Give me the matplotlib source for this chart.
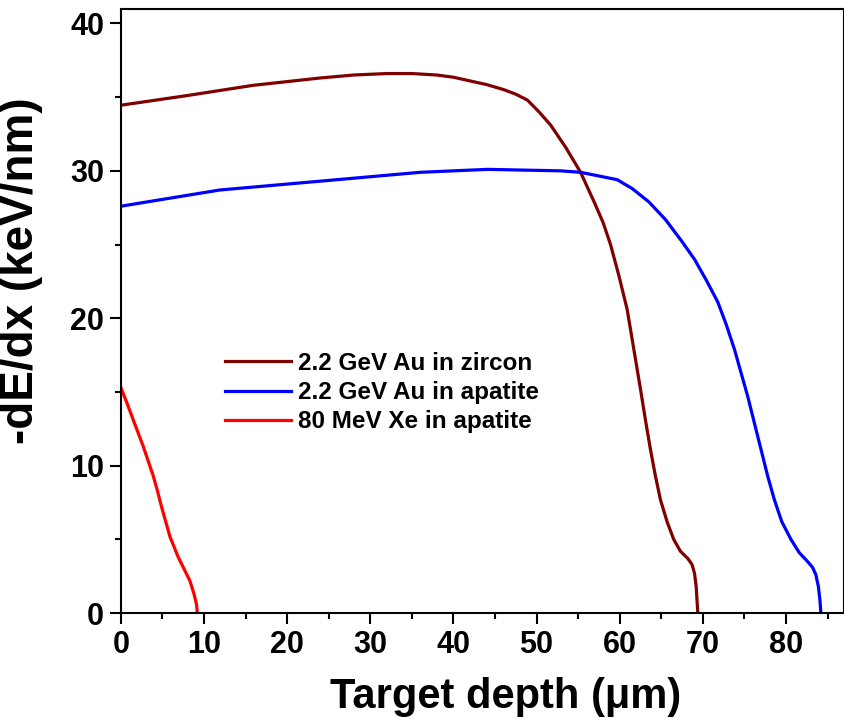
import numpy as np
import matplotlib.pyplot as plt

plt.rcParams['font.family'] = ['Liberation Sans', 'DejaVu Sans']
plt.rcParams['font.weight'] = 'bold'

# 2.2 GeV Au in zircon
zr_x = [0, 7.9, 15.9, 24.0, 28.0, 32.0, 35.0, 38.0, 40.0, 42.0, 44.0, 46.1, 47.5, 48.9,
        50.3, 51.7, 53.5, 55.3, 57.0, 58.0, 58.9, 59.9, 60.9, 61.7, 62.5, 63.1, 63.7,
        64.3, 64.9, 65.7, 66.5, 67.3, 68.2, 68.7, 69.0, 69.2, 69.3, 69.4]
zr_y = [34.45, 35.1, 35.8, 36.3, 36.5, 36.6, 36.6, 36.5, 36.35, 36.1, 35.85, 35.5, 35.2, 34.8,
        34.0, 33.1, 31.6, 29.9, 27.8, 26.5, 25.0, 22.9, 20.6, 17.9, 15.2, 13.1, 11.1,
        9.3, 7.7, 6.2, 5.0, 4.2, 3.7, 3.3, 2.7, 1.8, 0.9, 0]

# 2.2 GeV Au in apatite
ap_x = [0, 11.9, 24.0, 36.0, 44.1, 52.9, 55.3, 59.7, 61.5, 63.5, 65.5, 67.5, 69.0,
        70.5, 71.8, 72.8, 73.8, 74.6, 75.4, 76.2, 77.0, 77.8, 78.6, 79.5, 80.6,
        81.6, 82.6, 83.2, 83.6, 83.9, 84.1, 84.2]
ap_y = [27.6, 28.7, 29.3, 29.9, 30.1, 30.0, 29.9, 29.4, 28.8, 27.9, 26.7, 25.2, 24.0,
        22.5, 21.1, 19.6, 17.9, 16.3, 14.7, 12.9, 11.1, 9.3, 7.7, 6.2, 5.0,
        4.1, 3.5, 3.1, 2.6, 1.8, 0.8, 0]

# 80 MeV Xe in apatite
xe_x = [0, 0.7, 1.5, 2.1, 2.7, 3.3, 3.9, 4.4, 4.9, 5.4, 5.9, 6.4, 6.9, 7.6, 8.3, 8.8, 9.1, 9.2]
xe_y = [15.3, 14.3, 13.1, 12.2, 11.3, 10.3, 9.3, 8.3, 7.2, 6.2, 5.2, 4.5, 3.8, 3.0, 2.2, 1.3, 0.6, 0]

fig = plt.figure(figsize=(8.45, 7.23), dpi=100)
ax = fig.add_axes([0.143, 0.152, 0.856, 0.836])

ax.plot(zr_x, zr_y, color='#800000', lw=2.3, solid_joinstyle='round', label='2.2 GeV Au in zircon')
ax.plot(ap_x, ap_y, color='#0000FF', lw=2.3, solid_joinstyle='round', label='2.2 GeV Au in apatite')
ax.plot(xe_x, xe_y, color='#FF0000', lw=2.3, solid_joinstyle='round', label='80 MeV Xe in apatite')

ax.set_xlim(0, 87)
ax.set_ylim(0, 41)
ax.set_xticks(np.arange(0, 81, 10))
ax.set_xticks(np.arange(5, 86, 10), minor=True)
ax.set_yticks(np.arange(0, 41, 10))
ax.set_yticks(np.arange(5, 41, 10), minor=True)

for s in ax.spines.values():
    s.set_linewidth(1.5)
ax.tick_params(which='major', direction='out', length=8, width=1.5, labelsize=22, pad=4)
ax.tick_params(which='minor', direction='out', length=4.5, width=1.5)
ax.tick_params(top=False, right=False, which='both')

ax.set_xlabel('Target depth (\u03bcm)', fontsize=30, fontweight='bold')
ax.set_ylabel('-dE/dx (keV/nm)', fontsize=33, fontweight='bold')
ax.xaxis.set_label_coords(0.532, -0.105)
ax.yaxis.set_label_coords(-0.108, 0.566)

leg = ax.legend(loc='upper left', bbox_to_anchor=(0.144, 0.432), frameon=False,
                fontsize=17.5, handlelength=2.7, handletextpad=0.3,
                labelspacing=0.25, borderpad=0, borderaxespad=0)

fig.savefig('out.png', dpi=100)
